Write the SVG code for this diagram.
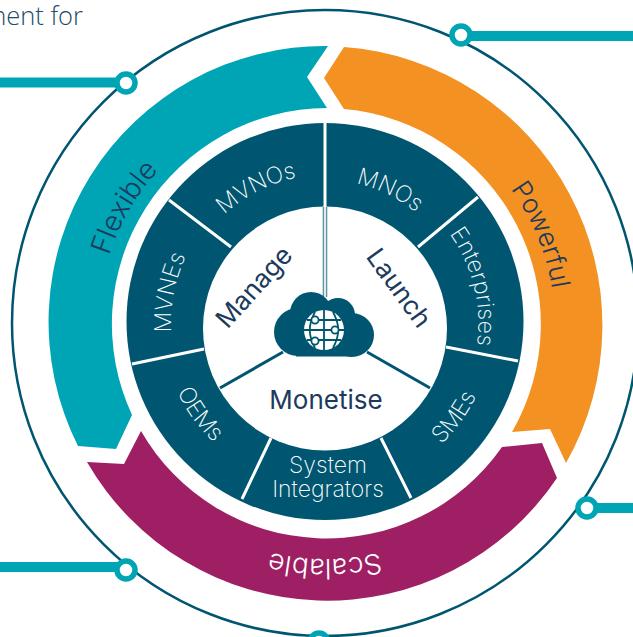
<svg xmlns="http://www.w3.org/2000/svg" width="633" height="637" viewBox="0 0 633 637">
<style>
text{font-family:"Inter","Liberation Sans",sans-serif}
.seg{fill:#fff;font-size:23px;font-weight:250;text-anchor:middle}
.act{fill:#1c3a5e;font-size:26px;font-weight:400;text-anchor:middle}
.big{font-size:28px;font-weight:300;text-anchor:middle}
.spoke{stroke:#fff;stroke-width:3;fill:none}
.dspoke{stroke:#005670;stroke-width:3;fill:none}
.bar{fill:#00a5b5}
.dot{fill:#fff;stroke:#00a5b5;stroke-width:5.5}
</style>
<defs>
<path id="pFlex" d="M130.3 437.7A224 224 0 0 1 327.7 99"/>
<path id="pPow" d="M355 95A232 232 0 0 1 507.5 465"/>
<path id="pSca" d="M529.4 441A236 236 0 0 1 120.6 441"/>
<path id="pMVNO" d="M180.8 289.7A148 148 0 0 1 382.8 186.8"/>
<path id="pMNO" d="M266.8 192.4A143 143 0 0 1 463.8 288.4"/>
<path id="pMVNE" d="M203.7 418A155 155 0 0 1 247.8 188.9"/>
<path id="pEnt" d="M368.1 175.8A154 154 0 0 1 431.5 434.2"/>
<path id="pOEM" d="M166.8 283.6A163 163 0 0 0 313.6 485.6"/>
<path id="pSME" d="M336.7 490.6A168 168 0 0 0 488 282.4"/>
</defs>
<rect width="633" height="637" fill="#fff"/>
<text id="caption" x="83" y="25" text-anchor="end" style="font-family:'Open Sans','Liberation Sans',sans-serif;font-size:25.5px;font-weight:300" fill="#1f4a68">ment for</text>
<circle id="outer-ring" cx="325" cy="323" r="313" fill="none" stroke="#005670" stroke-width="2.5"/>
<g id="connectors">
<rect class="bar" x="0" y="77.5" width="120" height="10"/>
<rect class="bar" x="467" y="31" width="166" height="10"/>
<rect class="bar" x="0" y="562" width="120" height="10"/>
<rect class="bar" x="593" y="503" width="40" height="10"/>
<circle class="dot" cx="126" cy="83" r="9"/>
<circle class="dot" cx="461" cy="35" r="9"/>
<circle class="dot" cx="126" cy="570" r="9"/>
<circle class="dot" cx="587" cy="508" r="9"/>
<circle class="dot" cx="319" cy="642" r="9"/>
</g>
<g id="flexible">
<path fill="#00a5b5" d="M328 46L307 77L327 108A216 216 0 0 0 132 415L116 449L78 446A276 276 0 0 1 328 46Z"/>
<text class="big" fill="#1c3a5e"><textPath href="#pFlex" startOffset="50%">Flexible</textPath></text>
</g>
<g id="powerful">
<path fill="#f39122" d="M344 47L324 78L344 109A216 216 0 0 1 512 432L550 429L566 463A279 279 0 0 0 344 47Z"/>
<text class="big" fill="#1c3a5e" style="font-size:26.5px"><textPath href="#pPow" startOffset="50%">Powerful</textPath></text>
</g>
<g id="scalable">
<path fill="#9e1f63" d="M141 431A214 214 0 0 0 502 447L542 443L557 478A277 277 0 0 1 87 462L124 464Z"/>
<text class="big" fill="#fff"><textPath href="#pSca" startOffset="50%">Scalable</textPath></text>
</g>
<g id="wheel">
<circle cx="325" cy="321.5" r="198.5" fill="#005670"/>
<circle cx="325" cy="328.5" r="122" fill="#fff"/>
<path class="spoke" d="M325 122V208M169 200L231 247M478 197L418 247M446 347L518 361M132 364L204 349M271 438L242 499M381 438L411 498"/>
<path class="dspoke" d="M283 352L220 388M367 352L430 388"/>
<rect x="322.7" y="207" width="4.6" height="90" fill="#5f95a8"/>
<rect x="324.2" y="207" width="1.6" height="90" fill="#fff"/>
</g>
<g id="cloud">
<g fill="#005670">
<circle cx="298" cy="332" r="24"/>
<circle cx="311" cy="313" r="21"/>
<circle cx="338" cy="315" r="17"/>
<circle cx="352" cy="335" r="22"/>
<rect x="296" y="315" width="56" height="41.5"/>
</g>
<circle cx="324" cy="330" r="20" fill="#fff"/>
<path fill="none" stroke="#005670" stroke-width="1.8" d="M324 310V350M304 330H344M307 320H341M307 340H341M315 312C308 325 308 335 315 348M333 312C340 325 340 335 333 348"/>
<g fill="#fff" stroke="#005670" stroke-width="1.8">
<circle cx="315" cy="320" r="3.6"/>
<circle cx="335" cy="330" r="3.6"/>
<circle cx="315" cy="341" r="3.6"/>
</g>
</g>
<g id="manage"><text class="act" transform="translate(254 287) rotate(-48)" y="9">Manage</text></g>
<g id="launch"><text class="act" transform="translate(399 288) rotate(54)" y="9">Launch</text></g>
<g id="monetise"><text class="act" x="326" y="409">Monetise</text></g>
<g id="mvnos"><text class="seg"><textPath href="#pMVNO" startOffset="50%">MVNOs</textPath></text></g>
<g id="mnos"><text class="seg"><textPath href="#pMNO" startOffset="50%">MNOs</textPath></text></g>
<g id="mvnes"><text class="seg"><textPath href="#pMVNE" startOffset="50%">MVNEs</textPath></text></g>
<g id="enterprises"><text class="seg"><textPath href="#pEnt" startOffset="50%">Enterprises</textPath></text></g>
<g id="oems"><text class="seg"><textPath href="#pOEM" startOffset="50%">OEMs</textPath></text></g>
<g id="smes"><text class="seg"><textPath href="#pSME" startOffset="50%">SMEs</textPath></text></g>
<g id="system-integrators"><text class="seg" x="328" y="473">System</text><text class="seg" x="328" y="497">Integrators</text></g>
</svg>
